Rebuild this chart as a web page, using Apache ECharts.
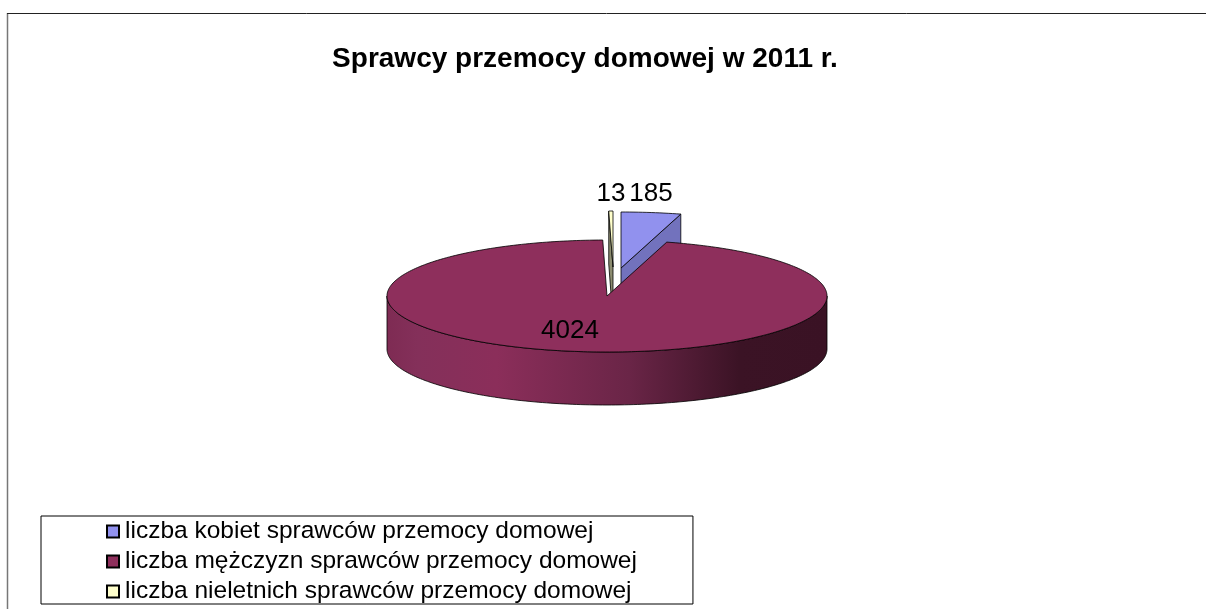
<!DOCTYPE html>
<html><head><meta charset="utf-8">
<style>html,body{margin:0;padding:0;background:#fff}#c{width:1206px;height:609px}</style>
<script src="https://cdn.jsdelivr.net/npm/echarts@6/dist/echarts.min.js"></script>
</head><body><div id="c"></div>
<script>
const titleText = 'Sprawcy przemocy domowej w 2011 r.';
const sliceNames = ['liczba kobiet sprawców przemocy domowej','liczba mężczyzn sprawców przemocy domowej','liczba nieletnich sprawców przemocy domowej'];
const sliceValues = [185, 4024, 13];
const sliceColors = ['#9191ee', '#8e2f5c', '#ffffcc'];
const sideColors = ['#7272bd', '#8e2f5c', '#8c8c70'];

const CX = 607, CY = 296, RX = 220, RY = 56, DEPTH = 53;
const shifts = [[14, -28], [0, 0], [6, -29]];
const labelPos = [[651, 194], [570, 331], [611, 194]];
const total = sliceValues.reduce((a, b) => a + b, 0);
const deg = i => sliceValues.slice(0, i).reduce((a, b) => a + b, 0) / total * 2 * Math.PI;
const pt = (cx, cy, a) => [cx + RX * Math.sin(a), cy - RY * Math.cos(a)];
function arc(cx, cy, a0, a1) {
  const n = Math.max(2, Math.ceil(Math.abs(a1 - a0) / 0.02)), out = [];
  for (let k = 0; k <= n; k++) out.push(pt(cx, cy, a0 + (a1 - a0) * k / n));
  return out;
}
function renderSlice(i) {
  return function () {
    const cx = CX + shifts[i][0], cy = CY + shifts[i][1];
    const a0 = deg(i), a1 = deg(i + 1);
    const stroke = { stroke: '#000', lineWidth: 0.8 };
    const children = [];
    const apex = [cx, cy], apexB = [cx, cy + DEPTH];
    if (i === 1) {
      const wall = arc(cx, cy, Math.PI / 2, 3 * Math.PI / 2);
      const wallBottom = wall.map(p => [p[0], p[1] + DEPTH]).reverse();
      children.push({ type: 'polygon', shape: { points: wall.concat(wallBottom) },
        style: { ...stroke, fill: new echarts.graphic.LinearGradient(1, 0, 0, 0, [
          { offset: 0, color: '#3a1224' }, { offset: 0.2, color: '#3b1325' },
          { offset: 0.45, color: '#6a2547' }, { offset: 0.75, color: '#8b2e5a' },
          { offset: 0.93, color: '#84305a' }, { offset: 1, color: '#7e2b53' }]) } });
    } else {
      const e = pt(cx, cy, i === 0 ? a1 : a0);
      children.push({ type: 'polygon', shape: { points: [apex, e, [e[0], e[1] + DEPTH], apexB] },
        style: { ...stroke, fill: sideColors[i] } });
    }
    children.push({ type: 'polygon', shape: { points: [apex].concat(arc(cx, cy, a0, a1)) },
      style: { ...stroke, fill: sliceColors[i] } });
    children.push({ type: 'text', style: { x: labelPos[i][0], y: labelPos[i][1], text: String(sliceValues[i]),
      fill: '#000', font: '26px "Liberation Sans"', align: 'center', verticalAlign: 'middle' }, z2: 50 });
    return { type: 'group', children };
  };
}
const order = [0, 2, 1];
const chart = echarts.init(document.getElementById('c'), null, { renderer: 'canvas' });
chart.setOption({
  animation: false,
  backgroundColor: '#fff',
  title: { text: titleText, left: 580, top: 40, textAlign: 'center',
    textStyle: { fontFamily: 'Liberation Sans', fontWeight: 'bold', fontSize: 28, color: '#000' } },
  legend: { data: sliceNames, orient: 'vertical', left: 41, top: 516, itemWidth: 12, itemHeight: 12, itemGap: 5,
    icon: 'rect', selectedMode: false, borderColor: '#000', borderWidth: 1, backgroundColor: '#fff',
    padding: [3, 56, 0, 65],
    itemStyle: { borderColor: '#000', borderWidth: 2 },
    textStyle: { fontFamily: 'Liberation Sans', fontSize: 24.5, lineHeight: 24, color: '#000', padding: [0,0,0,1] } },
  graphic: { elements: [
    { type: 'line', shape: { x1: 7.5, y1: 13, x2: 7.5, y2: 609 }, style: { stroke: '#777', lineWidth: 1.5 }, silent: true },
    { type: 'line', shape: { x1: 7, y1: 13.5, x2: 1206, y2: 13.5 }, style: { stroke: '#222', lineWidth: 1 }, silent: true }
  ] },
  series: order.map((i, k) => ({
    type: 'custom', name: sliceNames[i], coordinateSystem: 'none', z: 2 + k,
    data: [sliceValues[i]], renderItem: renderSlice(i),
    itemStyle: { color: sliceColors[i], borderColor: '#000', borderWidth: 2 }, silent: true
  }))
});
</script></body></html>
